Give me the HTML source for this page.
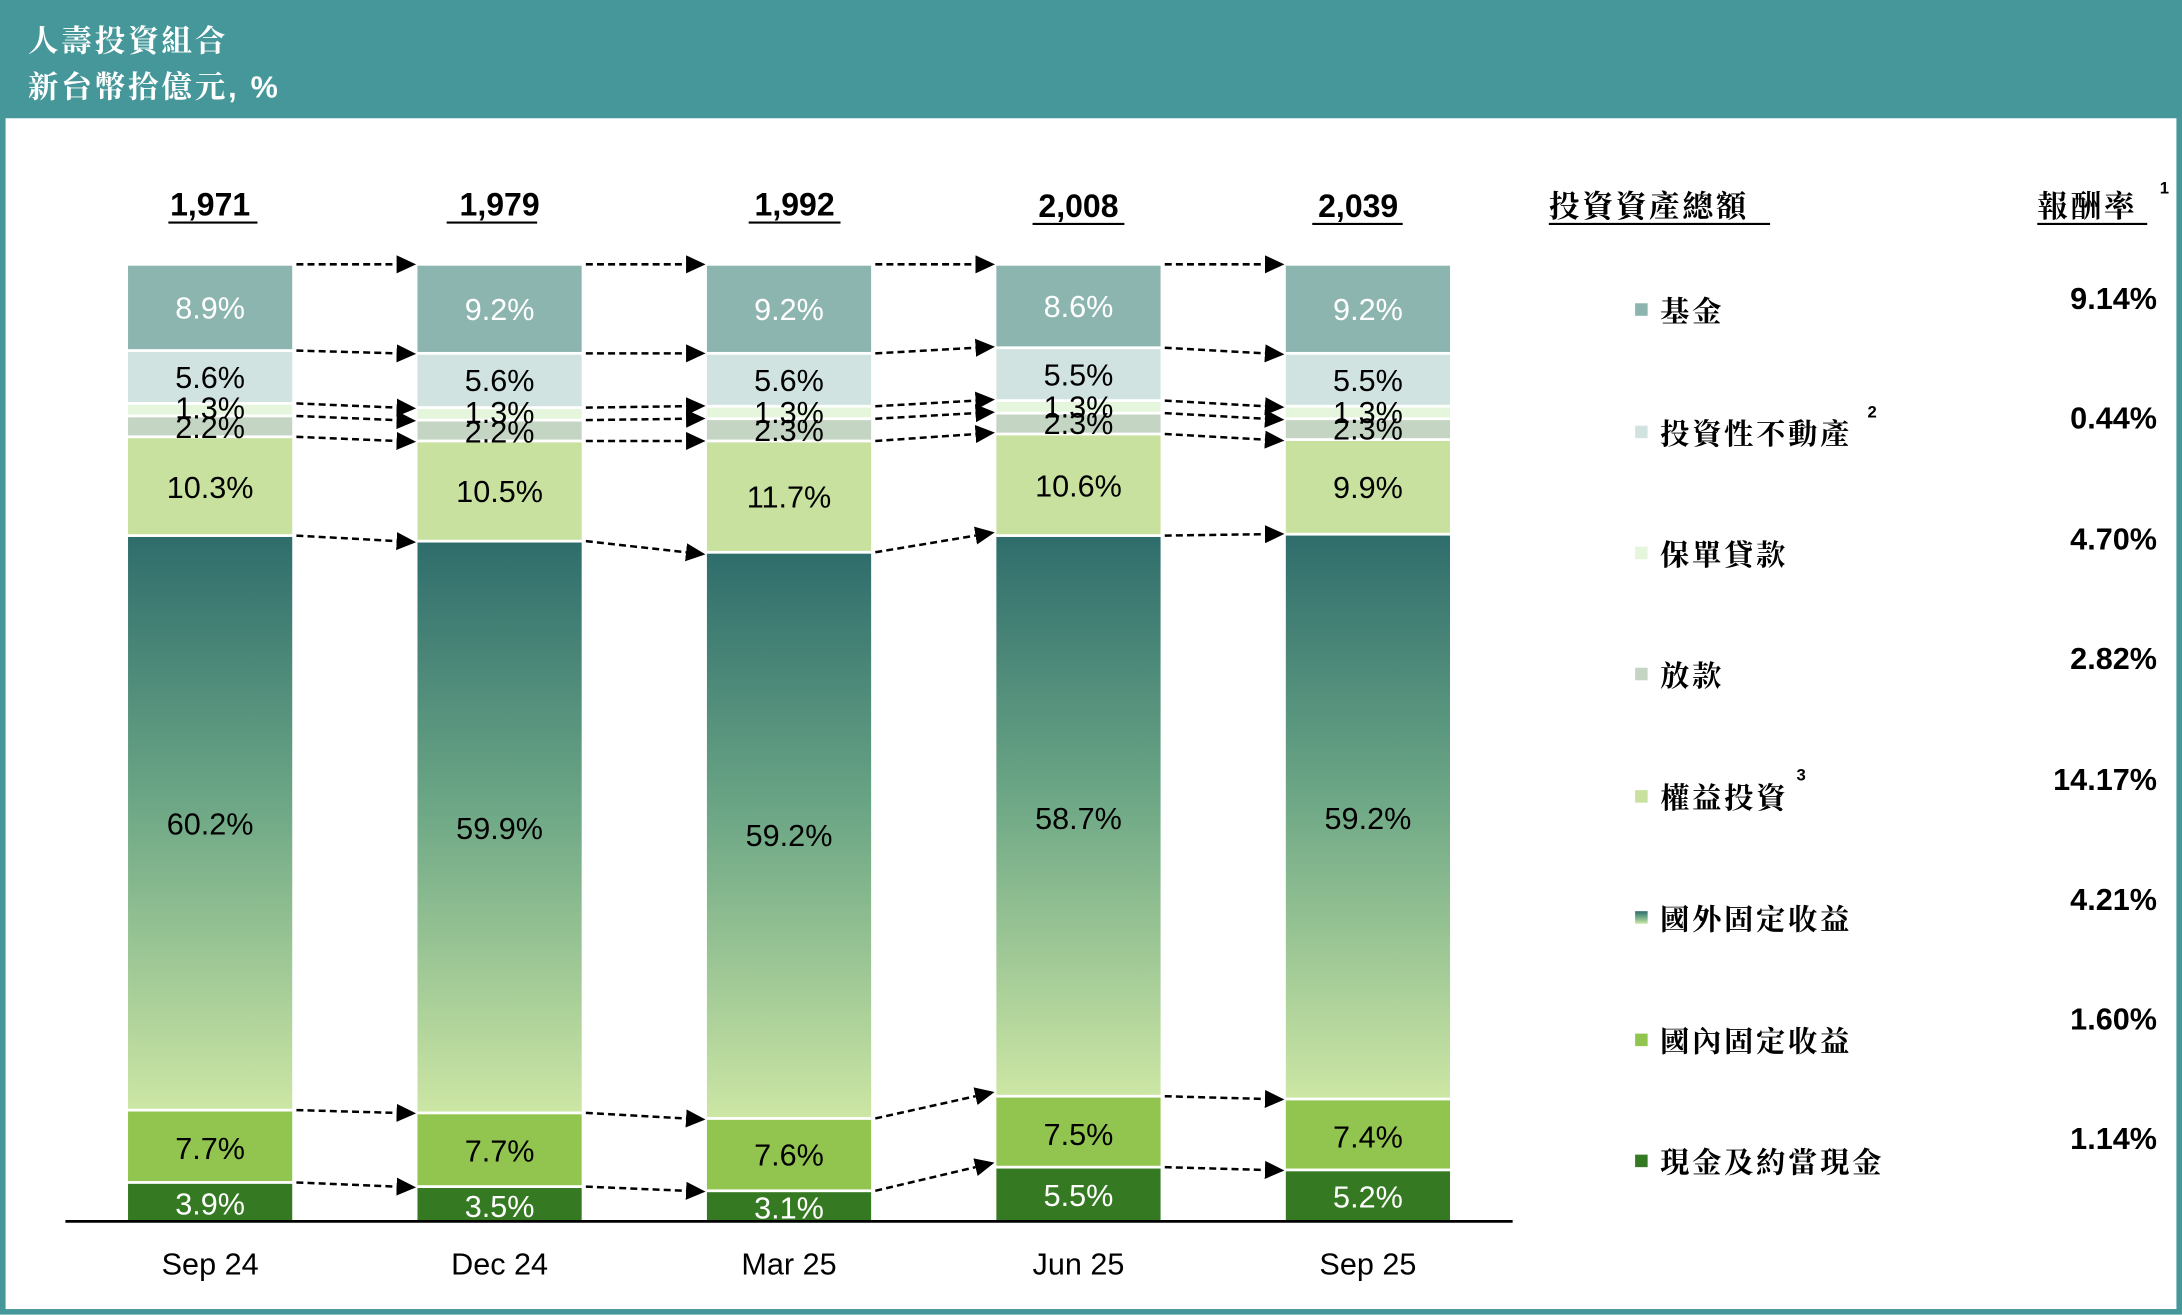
<!DOCTYPE html>
<html><head><meta charset="utf-8"><style>
html,body{margin:0;padding:0;background:#fff;}
svg{display:block;}
.p{font-family:"Liberation Sans Narrow","Liberation Sans",sans-serif;font-size:22px;text-anchor:middle;fill:#000;}
.w{fill:#fff;}
.t{font-family:"Liberation Sans Narrow","Liberation Sans",sans-serif;font-size:23px;font-weight:bold;text-anchor:middle;}
.x{font-family:"Liberation Sans Narrow","Liberation Sans",sans-serif;font-size:22px;text-anchor:middle;}
.c{font-family:"Liberation Sans","Noto Serif CJK SC","Noto Sans CJK TC",serif;font-size:21px;font-weight:bold;letter-spacing:2px;}
.r{font-family:"Liberation Sans Narrow","Liberation Sans",sans-serif;font-size:22px;font-weight:bold;text-anchor:end;}
.s{font-family:"Liberation Sans",sans-serif;font-size:12px;font-weight:bold;}
</style></head><body>
<svg width="2182" height="1316" viewBox="0 0 1568 946" preserveAspectRatio="none" xmlns="http://www.w3.org/2000/svg">
<defs>
<linearGradient id="g" x1="0" y1="0" x2="0" y2="1">
<stop offset="0" stop-color="#2F6D6C"/><stop offset="0.45" stop-color="#6AA585"/><stop offset="1" stop-color="#CCE6A4"/>
</linearGradient>
<marker id="a" markerUnits="userSpaceOnUse" markerWidth="15" markerHeight="13" refX="0" refY="6.5" orient="auto">
<path d="M0,0 L14,6.5 L0,13 z" fill="#000"/>
</marker>
</defs>
<rect x="0" y="0" width="1568" height="946" fill="#fff"/>
<rect x="2" y="2" width="1564" height="941" fill="none" stroke="#46979A" stroke-width="4"/>
<rect x="0" y="0" width="1568" height="85" fill="#46979A"/>
<text x="20" y="37" class="c" style="fill:#fff;font-size:22px">人壽投資組合</text>
<text x="20" y="70" class="c" style="fill:#fff;font-size:22px">新台幣拾億元, %</text>

<g class="t">
<text x="151" y="155">1,971</text><text x="359" y="155">1,979</text><text x="571" y="155">1,992</text><text x="775" y="156">2,008</text><text x="976" y="156">2,039</text>
</g>
<g stroke="#000" stroke-width="1.5">
<line x1="121" y1="160" x2="185" y2="160"/><line x1="321" y1="160" x2="386" y2="160"/><line x1="538" y1="160" x2="604" y2="160"/><line x1="742" y1="161" x2="808" y2="161"/><line x1="943" y1="161" x2="1008" y2="161"/>
</g>

<g>
<rect x="92" y="191" width="118" height="60" fill="#8DB5B0"/><rect x="92" y="253" width="118" height="36" fill="#D0E3E1"/><rect x="92" y="291" width="118" height="7" fill="#E5F6DD"/><rect x="92" y="300" width="118" height="13" fill="#C5D5C4"/><rect x="92" y="315" width="118" height="69" fill="#C8E19E"/><rect x="92" y="386" width="118" height="411" fill="url(#g)"/><rect x="92" y="799" width="118" height="50" fill="#92C550"/><rect x="92" y="851" width="118" height="26" fill="#357A22"/>
<rect x="300" y="191" width="118" height="62" fill="#8DB5B0"/><rect x="300" y="255" width="118" height="37" fill="#D0E3E1"/><rect x="300" y="294" width="118" height="7" fill="#E5F6DD"/><rect x="300" y="303" width="118" height="13" fill="#C5D5C4"/><rect x="300" y="318" width="118" height="70" fill="#C8E19E"/><rect x="300" y="390" width="118" height="409" fill="url(#g)"/><rect x="300" y="801" width="118" height="51" fill="#92C550"/><rect x="300" y="854" width="118" height="23" fill="#357A22"/>
<rect x="508" y="191" width="118" height="62" fill="#8DB5B0"/><rect x="508" y="255" width="118" height="36" fill="#D0E3E1"/><rect x="508" y="293" width="118" height="7" fill="#E5F6DD"/><rect x="508" y="302" width="118" height="14" fill="#C5D5C4"/><rect x="508" y="318" width="118" height="78" fill="#C8E19E"/><rect x="508" y="398" width="118" height="405" fill="url(#g)"/><rect x="508" y="805" width="118" height="50" fill="#92C550"/><rect x="508" y="857" width="118" height="20" fill="#357A22"/>
<rect x="716" y="191" width="118" height="58" fill="#8DB5B0"/><rect x="716" y="251" width="118" height="36" fill="#D0E3E1"/><rect x="716" y="289" width="118" height="7" fill="#E5F6DD"/><rect x="716" y="298" width="118" height="13" fill="#C5D5C4"/><rect x="716" y="313" width="118" height="71" fill="#C8E19E"/><rect x="716" y="386" width="118" height="401" fill="url(#g)"/><rect x="716" y="789" width="118" height="49" fill="#92C550"/><rect x="716" y="840" width="118" height="37" fill="#357A22"/>
<rect x="924" y="191" width="118" height="62" fill="#8DB5B0"/><rect x="924" y="255" width="118" height="36" fill="#D0E3E1"/><rect x="924" y="293" width="118" height="7" fill="#E5F6DD"/><rect x="924" y="302" width="118" height="13" fill="#C5D5C4"/><rect x="924" y="317" width="118" height="66" fill="#C8E19E"/><rect x="924" y="385" width="118" height="404" fill="url(#g)"/><rect x="924" y="791" width="118" height="49" fill="#92C550"/><rect x="924" y="842" width="118" height="35" fill="#357A22"/>
</g>
<line x1="47" y1="878" x2="1087" y2="878" stroke="#000" stroke-width="2"/>

<g class="p">
<text x="151" y="229" class="w">8.9%</text><text x="151" y="279">5.6%</text><text x="151" y="301">1.3%</text><text x="151" y="315">2.2%</text><text x="151" y="358">10.3%</text><text x="151" y="600">60.2%</text><text x="151" y="833">7.7%</text><text x="151" y="873" class="w">3.9%</text>
<text x="359" y="230" class="w">9.2%</text><text x="359" y="281">5.6%</text><text x="359" y="304">1.3%</text><text x="359" y="318">2.2%</text><text x="359" y="361">10.5%</text><text x="359" y="603">59.9%</text><text x="359" y="835">7.7%</text><text x="359" y="875" class="w">3.5%</text>
<text x="567" y="230" class="w">9.2%</text><text x="567" y="281">5.6%</text><text x="567" y="304">1.3%</text><text x="567" y="317">2.3%</text><text x="567" y="365">11.7%</text><text x="567" y="608">59.2%</text><text x="567" y="838">7.6%</text><text x="567" y="876" class="w">3.1%</text>
<text x="775" y="228" class="w">8.6%</text><text x="775" y="277">5.5%</text><text x="775" y="300">1.3%</text><text x="775" y="312">2.3%</text><text x="775" y="357">10.6%</text><text x="775" y="596">58.7%</text><text x="775" y="823">7.5%</text><text x="775" y="867" class="w">5.5%</text>
<text x="983" y="230" class="w">9.2%</text><text x="983" y="281">5.5%</text><text x="983" y="304">1.3%</text><text x="983" y="316">2.3%</text><text x="983" y="358">9.9%</text><text x="983" y="596">59.2%</text><text x="983" y="825">7.4%</text><text x="983" y="868" class="w">5.2%</text>
</g>

<g stroke="#000" stroke-width="1.8" stroke-dasharray="5,3" marker-end="url(#a)" fill="none">
<line x1="213" y1="190" x2="285" y2="190"/><line x1="213" y1="252" x2="285" y2="254"/><line x1="213" y1="290" x2="285" y2="293"/><line x1="213" y1="299" x2="285" y2="302"/><line x1="213" y1="314" x2="285" y2="317"/><line x1="213" y1="385" x2="285" y2="389"/><line x1="213" y1="798" x2="285" y2="800"/><line x1="213" y1="850" x2="285" y2="853"/>
<line x1="421" y1="190" x2="493" y2="190"/><line x1="421" y1="254" x2="493" y2="254"/><line x1="421" y1="293" x2="493" y2="292"/><line x1="421" y1="302" x2="493" y2="301"/><line x1="421" y1="317" x2="493" y2="317"/><line x1="421" y1="389" x2="493" y2="397"/><line x1="421" y1="800" x2="493" y2="804"/><line x1="421" y1="853" x2="493" y2="856"/>
<line x1="629" y1="190" x2="701" y2="190"/><line x1="629" y1="254" x2="701" y2="250"/><line x1="629" y1="292" x2="701" y2="288"/><line x1="629" y1="301" x2="701" y2="297"/><line x1="629" y1="317" x2="701" y2="312"/><line x1="629" y1="397" x2="701" y2="385"/><line x1="629" y1="804" x2="701" y2="788"/><line x1="629" y1="856" x2="701" y2="839"/>
<line x1="837" y1="190" x2="909" y2="190"/><line x1="837" y1="250" x2="909" y2="254"/><line x1="837" y1="288" x2="909" y2="292"/><line x1="837" y1="297" x2="909" y2="301"/><line x1="837" y1="312" x2="909" y2="316"/><line x1="837" y1="385" x2="909" y2="384"/><line x1="837" y1="788" x2="909" y2="790"/><line x1="837" y1="839" x2="909" y2="841"/>
</g>

<g class="x">
<text x="151" y="916">Sep 24</text><text x="359" y="916">Dec 24</text><text x="567" y="916">Mar 25</text><text x="775" y="916">Jun 25</text><text x="983" y="916">Sep 25</text>
</g>

<text x="1113" y="156" class="c" style="font-size:22px">投資資產總額</text>
<line x1="1113" y1="161" x2="1272" y2="161" stroke="#000" stroke-width="1.5"/>
<text x="1464" y="156" class="c" style="font-size:22px">報酬率</text>
<line x1="1464" y1="161" x2="1543" y2="161" stroke="#000" stroke-width="1.5"/>
<text x="1552" y="139" class="s">1</text>

<rect x="1175" y="218" width="9" height="9" fill="#8DB5B0"/><text x="1193" y="231" class="c">基金</text>
<rect x="1175" y="306" width="9" height="9" fill="#D0E3E1"/><text x="1193" y="319" class="c">投資性不動產</text><text x="1342" y="300" class="s">2</text>
<rect x="1175" y="393" width="9" height="9" fill="#E5F6DD"/><text x="1193" y="406" class="c">保單貸款</text>
<rect x="1175" y="480" width="9" height="9" fill="#C5D5C4"/><text x="1193" y="493" class="c">放款</text>
<rect x="1175" y="568" width="9" height="9" fill="#C8E19E"/><text x="1193" y="581" class="c">權益投資</text><text x="1291" y="561" class="s">3</text>
<rect x="1175" y="655" width="9" height="9" fill="url(#g)"/><text x="1193" y="668" class="c">國外固定收益</text>
<rect x="1175" y="743" width="9" height="9" fill="#92C550"/><text x="1193" y="756" class="c">國內固定收益</text>
<rect x="1175" y="830" width="9" height="9" fill="#357A22"/><text x="1193" y="843" class="c">現金及約當現金</text>

<g class="r">
<text x="1550" y="222">9.14%</text><text x="1550" y="308">0.44%</text><text x="1550" y="395">4.70%</text><text x="1550" y="481">2.82%</text><text x="1550" y="568">14.17%</text><text x="1550" y="654">4.21%</text><text x="1550" y="740">1.60%</text><text x="1550" y="826">1.14%</text>
</g>
</svg>
</body></html>
